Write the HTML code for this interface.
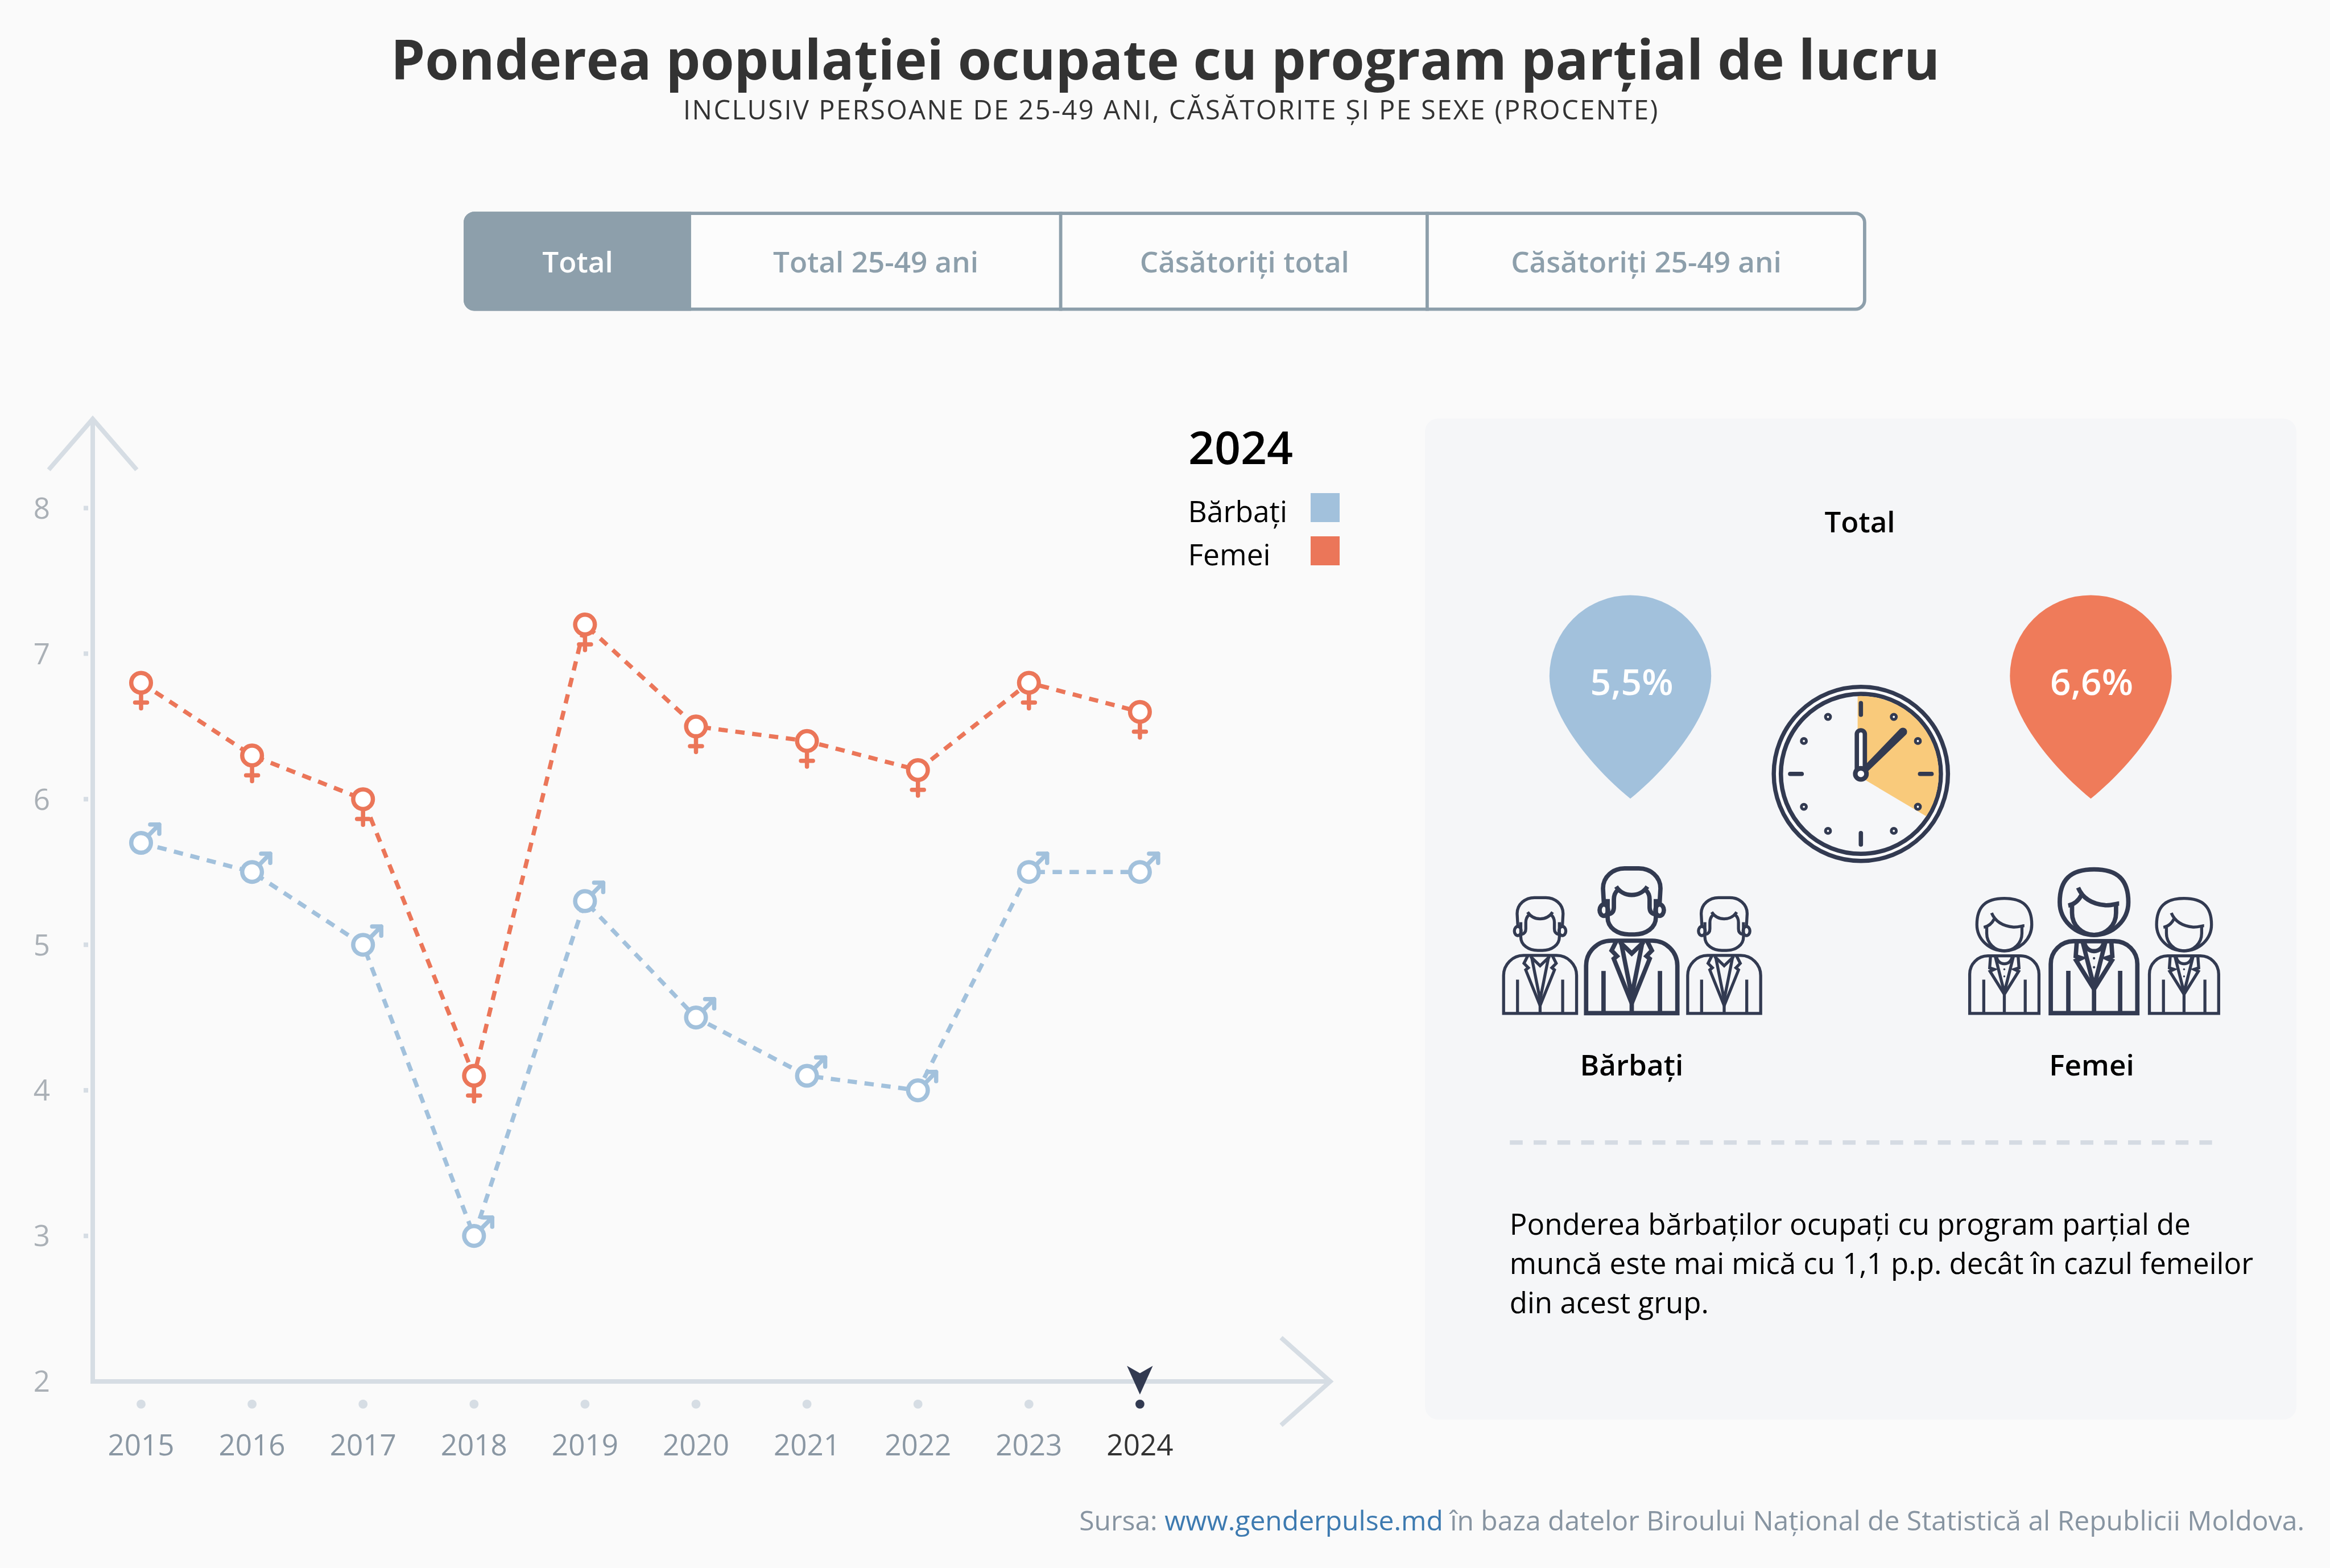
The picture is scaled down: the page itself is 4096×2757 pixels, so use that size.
<!DOCTYPE html>
<html lang="ro"><head><meta charset="utf-8"><title>Ponderea populației ocupate cu program parțial de lucru</title>
<style>
html,body{margin:0;padding:0;background:#fafafa;}
body{width:4096px;height:2757px;overflow:hidden;font-family:'Open Sans', 'Liberation Sans', sans-serif;}
svg{display:block;will-change:transform;}
text{font-family:'Open Sans', 'Liberation Sans', sans-serif;}
</style></head><body>
<svg width="4096" height="2757" viewBox="0 0 4096 2757">
<rect width="4096" height="2757" fill="#fafafa"/>

<text textLength="2723.25" lengthAdjust="spacingAndGlyphs" x="2048.5" y="139.8" text-anchor="middle" font-size="96" font-weight="700" fill="#333">Ponderea populației ocupate cu program parțial de lucru</text>
<text textLength="1713.40" lengthAdjust="spacing" x="1201" y="209.8" font-size="47" font-weight="400" fill="#333">INCLUSIV PERSOANE DE 25-49 ANI, CĂSĂTORITE ȘI PE SEXE (PROCENTE)</text>
<rect x="815" y="372.3" width="2465.8" height="174.2" rx="19" fill="#fcfcfc"/>
<path d="M1214.9 372.3 H834 A19 19 0 0 0 815 391.3 V527.5 A19 19 0 0 0 834 546.5 H1214.9 Z" fill="#8d9fab"/>
<rect x="817.9" y="375.2" width="2460.0" height="168.39999999999998" rx="16.1" fill="none" stroke="#8d9fab" stroke-width="5.8"/>
<rect x="1861.6999999999998" y="372.3" width="5.8" height="174.2" fill="#8d9fab"/>
<rect x="2506.0" y="372.3" width="5.8" height="174.2" fill="#8d9fab"/>
<text textLength="124.38" lengthAdjust="spacingAndGlyphs" x="1015.5" y="479.2" text-anchor="middle" font-size="51.2" font-weight="600" fill="#fff">Total</text>
<text textLength="361.00" lengthAdjust="spacingAndGlyphs" x="1539.5" y="479.2" text-anchor="middle" font-size="51.2" font-weight="600" fill="#8d9fab">Total 25-49 ani</text>
<text textLength="368.12" lengthAdjust="spacingAndGlyphs" x="2187.8" y="479.2" text-anchor="middle" font-size="51.2" font-weight="600" fill="#8d9fab">Căsătoriți total</text>
<text textLength="475.73" lengthAdjust="spacingAndGlyphs" x="2894" y="479.2" text-anchor="middle" font-size="51.2" font-weight="600" fill="#8d9fab">Căsătoriți 25-49 ani</text>
<path d="M163 737 V2429 H2338.5" fill="none" stroke="#d6dde4" stroke-width="8" stroke-linejoin="miter"/>
<path d="M85.6 826 L163 736.7 L240.4 826" fill="none" stroke="#d6dde4" stroke-width="8" stroke-linejoin="miter"/>
<path d="M2252 2352 L2338.5 2429 L2252 2506" fill="none" stroke="#d6dde4" stroke-width="8" stroke-linejoin="miter"/>
<text textLength="29.28" lengthAdjust="spacingAndGlyphs" x="88" y="2447.3" text-anchor="end" font-size="51.2" fill="#aab0b6">2</text>
<rect x="147" y="2169.1" width="8" height="8" fill="#d6dde4"/>
<text textLength="29.28" lengthAdjust="spacingAndGlyphs" x="88" y="2191.4" text-anchor="end" font-size="51.2" fill="#aab0b6">3</text>
<rect x="147" y="1913.1" width="8" height="8" fill="#d6dde4"/>
<text textLength="29.28" lengthAdjust="spacingAndGlyphs" x="88" y="1935.4" text-anchor="end" font-size="51.2" fill="#aab0b6">4</text>
<rect x="147" y="1657.2" width="8" height="8" fill="#d6dde4"/>
<text textLength="29.28" lengthAdjust="spacingAndGlyphs" x="88" y="1679.5" text-anchor="end" font-size="51.2" fill="#aab0b6">5</text>
<rect x="147" y="1401.2" width="8" height="8" fill="#d6dde4"/>
<text textLength="29.28" lengthAdjust="spacingAndGlyphs" x="88" y="1423.5" text-anchor="end" font-size="51.2" fill="#aab0b6">6</text>
<rect x="147" y="1145.3" width="8" height="8" fill="#d6dde4"/>
<text textLength="29.28" lengthAdjust="spacingAndGlyphs" x="88" y="1167.6" text-anchor="end" font-size="51.2" fill="#aab0b6">7</text>
<rect x="147" y="889.4" width="8" height="8" fill="#d6dde4"/>
<text textLength="29.28" lengthAdjust="spacingAndGlyphs" x="88" y="911.6" text-anchor="end" font-size="51.2" fill="#aab0b6">8</text>
<circle cx="248.0" cy="2468.9" r="7.9" fill="#d6dde4"/>
<text textLength="117.08" lengthAdjust="spacingAndGlyphs" x="248.0" y="2559" text-anchor="middle" font-size="51.2" fill="#8a97a3">2015</text>
<circle cx="443.1" cy="2468.9" r="7.9" fill="#d6dde4"/>
<text textLength="117.08" lengthAdjust="spacingAndGlyphs" x="443.1" y="2559" text-anchor="middle" font-size="51.2" fill="#8a97a3">2016</text>
<circle cx="638.2" cy="2468.9" r="7.9" fill="#d6dde4"/>
<text textLength="117.08" lengthAdjust="spacingAndGlyphs" x="638.2" y="2559" text-anchor="middle" font-size="51.2" fill="#8a97a3">2017</text>
<circle cx="833.3" cy="2468.9" r="7.9" fill="#d6dde4"/>
<text textLength="117.08" lengthAdjust="spacingAndGlyphs" x="833.3" y="2559" text-anchor="middle" font-size="51.2" fill="#8a97a3">2018</text>
<circle cx="1028.4" cy="2468.9" r="7.9" fill="#d6dde4"/>
<text textLength="117.08" lengthAdjust="spacingAndGlyphs" x="1028.4" y="2559" text-anchor="middle" font-size="51.2" fill="#8a97a3">2019</text>
<circle cx="1223.5" cy="2468.9" r="7.9" fill="#d6dde4"/>
<text textLength="117.08" lengthAdjust="spacingAndGlyphs" x="1223.5" y="2559" text-anchor="middle" font-size="51.2" fill="#8a97a3">2020</text>
<circle cx="1418.6" cy="2468.9" r="7.9" fill="#d6dde4"/>
<text textLength="117.08" lengthAdjust="spacingAndGlyphs" x="1418.6" y="2559" text-anchor="middle" font-size="51.2" fill="#8a97a3">2021</text>
<circle cx="1613.7" cy="2468.9" r="7.9" fill="#d6dde4"/>
<text textLength="117.08" lengthAdjust="spacingAndGlyphs" x="1613.7" y="2559" text-anchor="middle" font-size="51.2" fill="#8a97a3">2022</text>
<circle cx="1808.8" cy="2468.9" r="7.9" fill="#d6dde4"/>
<text textLength="117.08" lengthAdjust="spacingAndGlyphs" x="1808.8" y="2559" text-anchor="middle" font-size="51.2" fill="#8a97a3">2023</text>
<text textLength="117.08" lengthAdjust="spacingAndGlyphs" x="2003.9" y="2559" text-anchor="middle" font-size="51.2" fill="#333">2024</text>
<path d="M1981.1 2401.6 L2003.9 2414.5 L2026.6 2401.6 L2003.9 2452 Z" fill="#323a51"/>
<circle cx="2003.9" cy="2468.8" r="7.9" fill="#323a51"/>
<polyline points="248.0,1482.0 443.1,1533.2 638.2,1661.2 833.3,2173.1 1028.4,1584.4 1223.5,1789.1 1418.6,1891.5 1613.7,1917.1 1808.8,1533.2 2003.9,1533.2" fill="none" stroke="#a2c1dc" stroke-width="7.5" stroke-dasharray="16.4 13.44"/>
<polyline points="248.0,1200.5 443.1,1328.4 638.2,1405.2 833.3,1891.5 1028.4,1098.1 1223.5,1277.3 1418.6,1302.9 1613.7,1354.0 1808.8,1200.5 2003.9,1251.7" fill="none" stroke="#eb7659" stroke-width="7.5" stroke-dasharray="16.4 13.44"/>
<g fill="none" stroke="#eb7659" stroke-width="7.5" stroke-linecap="round"><circle cx="248.0" cy="1200.5" r="17.3" fill="#fff"/><path d="M248.0 1221.5 V1245.5 M237.5 1235.3 H258.5"/></g>
<g fill="none" stroke="#eb7659" stroke-width="7.5" stroke-linecap="round"><circle cx="443.1" cy="1328.4" r="17.3" fill="#fff"/><path d="M443.1 1349.4 V1373.4 M432.6 1363.2 H453.6"/></g>
<g fill="none" stroke="#eb7659" stroke-width="7.5" stroke-linecap="round"><circle cx="638.2" cy="1405.2" r="17.3" fill="#fff"/><path d="M638.2 1426.2 V1450.2 M627.7 1440.0 H648.7"/></g>
<g fill="none" stroke="#eb7659" stroke-width="7.5" stroke-linecap="round"><circle cx="833.3" cy="1891.5" r="17.3" fill="#fff"/><path d="M833.3 1912.5 V1936.5 M822.8 1926.3 H843.8"/></g>
<g fill="none" stroke="#eb7659" stroke-width="7.5" stroke-linecap="round"><circle cx="1028.4" cy="1098.1" r="17.3" fill="#fff"/><path d="M1028.4 1119.1 V1143.1 M1017.9 1132.9 H1038.9"/></g>
<g fill="none" stroke="#eb7659" stroke-width="7.5" stroke-linecap="round"><circle cx="1223.5" cy="1277.3" r="17.3" fill="#fff"/><path d="M1223.5 1298.3 V1322.3 M1213.0 1312.1 H1234.0"/></g>
<g fill="none" stroke="#eb7659" stroke-width="7.5" stroke-linecap="round"><circle cx="1418.6" cy="1302.9" r="17.3" fill="#fff"/><path d="M1418.6 1323.9 V1347.9 M1408.1 1337.7 H1429.1"/></g>
<g fill="none" stroke="#eb7659" stroke-width="7.5" stroke-linecap="round"><circle cx="1613.7" cy="1354.0" r="17.3" fill="#fff"/><path d="M1613.7 1375.0 V1399.0 M1603.2 1388.8 H1624.2"/></g>
<g fill="none" stroke="#eb7659" stroke-width="7.5" stroke-linecap="round"><circle cx="1808.8" cy="1200.5" r="17.3" fill="#fff"/><path d="M1808.8 1221.5 V1245.5 M1798.3 1235.3 H1819.3"/></g>
<g fill="none" stroke="#eb7659" stroke-width="7.5" stroke-linecap="round"><circle cx="2003.9" cy="1251.7" r="17.3" fill="#fff"/><path d="M2003.9 1272.7 V1296.7 M1993.4 1286.5 H2014.4"/></g>
<g fill="none" stroke="#a2c1dc" stroke-width="7.5" stroke-linecap="round" stroke-linejoin="round"><circle cx="248.0" cy="1482.0" r="17.3" fill="#fff"/><path d="M262.8 1467.2 L280.0 1449.7 M264.0 1449.7 H280.0 V1466.0"/></g>
<g fill="none" stroke="#a2c1dc" stroke-width="7.5" stroke-linecap="round" stroke-linejoin="round"><circle cx="443.1" cy="1533.2" r="17.3" fill="#fff"/><path d="M457.9 1518.4 L475.1 1500.9 M459.1 1500.9 H475.1 V1517.2"/></g>
<g fill="none" stroke="#a2c1dc" stroke-width="7.5" stroke-linecap="round" stroke-linejoin="round"><circle cx="638.2" cy="1661.2" r="17.3" fill="#fff"/><path d="M653.0 1646.4 L670.2 1628.9 M654.2 1628.9 H670.2 V1645.2"/></g>
<g fill="none" stroke="#a2c1dc" stroke-width="7.5" stroke-linecap="round" stroke-linejoin="round"><circle cx="833.3" cy="2173.1" r="17.3" fill="#fff"/><path d="M848.1 2158.2 L865.3 2140.8 M849.3 2140.8 H865.3 V2157.1"/></g>
<g fill="none" stroke="#a2c1dc" stroke-width="7.5" stroke-linecap="round" stroke-linejoin="round"><circle cx="1028.4" cy="1584.4" r="17.3" fill="#fff"/><path d="M1043.2 1569.6 L1060.4 1552.1 M1044.4 1552.1 H1060.4 V1568.4"/></g>
<g fill="none" stroke="#a2c1dc" stroke-width="7.5" stroke-linecap="round" stroke-linejoin="round"><circle cx="1223.5" cy="1789.1" r="17.3" fill="#fff"/><path d="M1238.3 1774.3 L1255.5 1756.8 M1239.5 1756.8 H1255.5 V1773.1"/></g>
<g fill="none" stroke="#a2c1dc" stroke-width="7.5" stroke-linecap="round" stroke-linejoin="round"><circle cx="1418.6" cy="1891.5" r="17.3" fill="#fff"/><path d="M1433.4 1876.7 L1450.6 1859.2 M1434.6 1859.2 H1450.6 V1875.5"/></g>
<g fill="none" stroke="#a2c1dc" stroke-width="7.5" stroke-linecap="round" stroke-linejoin="round"><circle cx="1613.7" cy="1917.1" r="17.3" fill="#fff"/><path d="M1628.5 1902.3 L1645.7 1884.8 M1629.7 1884.8 H1645.7 V1901.1"/></g>
<g fill="none" stroke="#a2c1dc" stroke-width="7.5" stroke-linecap="round" stroke-linejoin="round"><circle cx="1808.8" cy="1533.2" r="17.3" fill="#fff"/><path d="M1823.6 1518.4 L1840.8 1500.9 M1824.8 1500.9 H1840.8 V1517.2"/></g>
<g fill="none" stroke="#a2c1dc" stroke-width="7.5" stroke-linecap="round" stroke-linejoin="round"><circle cx="2003.9" cy="1533.2" r="17.3" fill="#fff"/><path d="M2018.7 1518.4 L2035.9 1500.9 M2019.9 1500.9 H2035.9 V1517.2"/></g>
<text textLength="184.12" lengthAdjust="spacingAndGlyphs" x="2089" y="816" font-size="80.5" font-weight="600" fill="#000">2024</text>
<text textLength="174.42" lengthAdjust="spacingAndGlyphs" x="2088.5" y="917.5" font-size="51.5" fill="#000">Bărbați</text>
<text textLength="145.11" lengthAdjust="spacingAndGlyphs" x="2088.5" y="993.6" font-size="51.5" fill="#000">Femei</text>
<rect x="2304" y="867" width="51" height="51" fill="#a2c1dc"/>
<rect x="2304" y="943" width="51" height="51" fill="#eb7659"/>
<rect x="2505" y="736" width="1532" height="1760" rx="23" fill="#f5f6f8"/>
<text textLength="123.92" lengthAdjust="spacingAndGlyphs" x="3269.5" y="936" text-anchor="middle" font-size="51" font-weight="600" fill="#000">Total</text>
<path d="M2866 1404.3 C2797.0 1348.0 2723.8 1257.7 2723.8 1188.4 A142.2 142.2 0 0 1 3008.2 1188.4 C3008.2 1257.7 2935.0 1348.0 2866 1404.3 Z" fill="#a2c1dc"/>
<path d="M3675.5 1404.3 C3606.5 1348.0 3533.3 1257.7 3533.3 1188.4 A142.2 142.2 0 0 1 3817.7 1188.4 C3817.7 1257.7 3744.5 1348.0 3675.5 1404.3 Z" fill="#ef7b5a"/>
<text textLength="145.88" lengthAdjust="spacingAndGlyphs" x="2868.5" y="1221.5" text-anchor="middle" font-size="64" font-weight="600" fill="#fff">5,5%</text>
<text textLength="145.88" lengthAdjust="spacingAndGlyphs" x="3677" y="1221.5" text-anchor="middle" font-size="64" font-weight="600" fill="#fff">6,6%</text>
<circle cx="3271.3" cy="1360.7" r="153.1" fill="#fbfbfc" stroke="#323a51" stroke-width="7.4"/>
<circle cx="3271.3" cy="1360.7" r="140.6" fill="#f6f7f9" stroke="#323a51" stroke-width="7.6"/>
<clipPath id="cclip"><circle cx="3271.3" cy="1360.7" r="137"/></clipPath>
<path clip-path="url(#cclip)" d="M3265.6 1363.5 V1190 H3450 V1473.2 Z" fill="#f9ca7b"/>
<line x1="3271.3" y1="1256.7" x2="3271.3" y2="1236.4" stroke="#323a51" stroke-width="7.6" stroke-linecap="round"/>
<circle cx="3329.2" cy="1260.5" r="4.4" fill="#fff" stroke="#323a51" stroke-width="5"/>
<circle cx="3371.5" cy="1302.9" r="4.4" fill="#fff" stroke="#323a51" stroke-width="5"/>
<line x1="3375.3" y1="1360.7" x2="3395.6" y2="1360.7" stroke="#323a51" stroke-width="7.6" stroke-linecap="round"/>
<circle cx="3371.5" cy="1418.5" r="4.4" fill="#fff" stroke="#323a51" stroke-width="5"/>
<circle cx="3329.2" cy="1460.9" r="4.4" fill="#fff" stroke="#323a51" stroke-width="5"/>
<line x1="3271.3" y1="1464.7" x2="3271.3" y2="1485.0" stroke="#323a51" stroke-width="7.6" stroke-linecap="round"/>
<circle cx="3213.5" cy="1460.9" r="4.4" fill="#fff" stroke="#323a51" stroke-width="5"/>
<circle cx="3171.1" cy="1418.6" r="4.4" fill="#fff" stroke="#323a51" stroke-width="5"/>
<line x1="3167.3" y1="1360.7" x2="3147.0" y2="1360.7" stroke="#323a51" stroke-width="7.6" stroke-linecap="round"/>
<circle cx="3171.1" cy="1302.9" r="4.4" fill="#fff" stroke="#323a51" stroke-width="5"/>
<circle cx="3213.5" cy="1260.5" r="4.4" fill="#fff" stroke="#323a51" stroke-width="5"/>
<rect x="3264.2" y="1284.0" width="14.1" height="74" rx="7.05" fill="#fff" stroke="#323a51" stroke-width="7.7"/>
<path d="M3275.2 1364.6 L3350.4 1292.0 A7.3 7.3 0 0 0 3340.0 1281.6 L3267.4 1356.8 Z" fill="#323a51"/>
<circle cx="3271.3" cy="1360.7" r="9.85" fill="#fff" stroke="#323a51" stroke-width="8.1"/>
<defs><g id="man" fill="none" stroke="#323a51" stroke-linejoin="miter" stroke-miterlimit="10">
<path d="M-80.2 0 V-83.3 A44 44 0 0 1 -36.2 -127.3 H36.2 A44 44 0 0 1 80.2 -83.3 V0 Z"/>
<path d="M-49.6 -74 V0 M49.6 -74 V0 M0 -22 V0"/>
<path d="M-26.7 -127.3 L-35.4 -110 L-25.9 -100.2 L-31.6 -95.5 L0 -17 L31.6 -95.5 L25.9 -100.2 L35.4 -110 L26.7 -127.3"/>
<path d="M-19.3 -127.3 L0 -30 L19.3 -127.3"/>
<path d="M-21 -125 L0 -104.7 L21 -125"/>
<path d="M-49 -193.2 L-50.5 -219.2 C-50.5 -240.2 -32.5 -254.4 -12.5 -254.4 H12.5 C32.5 -254.4 50.5 -240.2 50.5 -219.2 L49 -193.2"/>
<path d="M-42.4 -200.5 V-168 C-42.4 -150 -25 -138.3 -5 -138.3 H5 C25 -138.3 42.4 -150 42.4 -168 V-200.5"/>
<path d="M-27.5 -222.5 A33 33 0 0 0 27.5 -222.5"/>
<path d="M-25 -216 Q-31.4 -210 -31.4 -200 V-186 Q-31.4 -176 -40 -174 M25 -216 Q31.4 -210 31.4 -200 V-186 Q31.4 -176 40 -174"/>
<ellipse cx="-49" cy="-181" rx="7.5" ry="10"/>
<ellipse cx="49" cy="-181" rx="7.5" ry="10"/>
</g><g id="woman" fill="none" stroke="#323a51" stroke-linejoin="miter" stroke-miterlimit="10">
<path d="M-76.1 0 V-86.4 A40 40 0 0 1 -36.1 -126.4 H36.1 A40 40 0 0 1 76.1 -86.4 V0 Z"/>
<path d="M-45.2 -74.2 V0 M45.9 -74.2 V0 M0 -42 V0"/>
<path d="M-30.3 -126.4 L-32.2 -99.9 L-22.2 -96.6 L-31.4 -92.4 L0 -42 L31.4 -92.4 L22.2 -96.6 L32.2 -99.9 L30.3 -126.4"/>
<path d="M-20.3 -126.4 L0 -46 L20.3 -126.4"/>
<path d="M-17.1 -126 A17.1 17.1 0 0 0 17.1 -126"/>
<path d="M0 -137.4 C-33.3 -137.4 -60.3 -163.2 -60.3 -195 C-60.3 -234 -42 -252.6 0 -252.6 C42 -252.6 60.3 -234 60.3 -195 C60.3 -163.2 33.3 -137.4 0 -137.4 Z"/>
<path d="M-38.7 -189.6 V-176.1 A38.7 38.7 0 0 0 38.7 -176.1 V-189.6"/>
<path d="M-28 -220.6 C-21 -204 -6 -192 20 -189.6 C30 -189 40 -192.7 44.1 -192.7"/>
<path d="M-45.3 -189.1 C-35 -191 -27 -198 -22.2 -207.5"/>
</g></defs>
<circle cx="0" cy="0" r="0" fill="none"/>
<use href="#man" transform="translate(2868.5 1781.3) scale(1.0)" stroke-width="7.70"/>
<use href="#man" transform="translate(2707.4 1781.8) scale(0.8)" stroke-width="6.62"/>
<use href="#man" transform="translate(3031.0 1781.8) scale(0.8)" stroke-width="6.62"/>
<use href="#woman" transform="translate(3681.2 1781.3) scale(1.0)" stroke-width="7.70"/>
<use href="#woman" transform="translate(3523.5 1781.8) scale(0.8)" stroke-width="6.62"/>
<use href="#woman" transform="translate(3839.4 1781.8) scale(0.8)" stroke-width="6.62"/>
<circle cx="3681.2" cy="1684.9" r="2.1" fill="#323a51"/>
<circle cx="3681.2" cy="1700.7" r="2.1" fill="#323a51"/>
<circle cx="3523.5" cy="1704.2" r="1.7" fill="#323a51"/>
<circle cx="3523.5" cy="1716.8" r="1.7" fill="#323a51"/>
<circle cx="3839.4" cy="1704.2" r="1.7" fill="#323a51"/>
<circle cx="3839.4" cy="1716.8" r="1.7" fill="#323a51"/>
<text textLength="181.61" lengthAdjust="spacingAndGlyphs" x="2868.4" y="1890.8" text-anchor="middle" font-size="51.2" font-weight="600" fill="#000">Bărbați</text>
<text textLength="149.38" lengthAdjust="spacingAndGlyphs" x="3677" y="1890.8" text-anchor="middle" font-size="51.2" font-weight="600" fill="#000">Femei</text>
<line x1="2654.2" y1="2008.8" x2="3888.6" y2="2008.8" stroke="#d5dbe3" stroke-width="7.7" stroke-dasharray="22.6 19.2"/>
<text textLength="1197.16" lengthAdjust="spacingAndGlyphs" x="2653.8" y="2171.0" font-size="51" fill="#000">Ponderea bărbaților ocupați cu program parțial de</text>
<text textLength="1307.19" lengthAdjust="spacingAndGlyphs" x="2653.8" y="2240.0" font-size="51" fill="#000">muncă este mai mică cu 1,1 p.p. decât în cazul femeilor</text>
<text textLength="350.16" lengthAdjust="spacingAndGlyphs" x="2653.8" y="2309.0" font-size="51" fill="#000">din acest grup.</text>
<text textLength="2153.86" lengthAdjust="spacingAndGlyphs" x="4051" y="2690.7" text-anchor="end" font-size="48" fill="#8794a1">Sursa: <tspan fill="#3d7ab0">www.genderpulse.md</tspan> în baza datelor Biroului Național de Statistică al Republicii Moldova.</text>
</svg></body></html>
